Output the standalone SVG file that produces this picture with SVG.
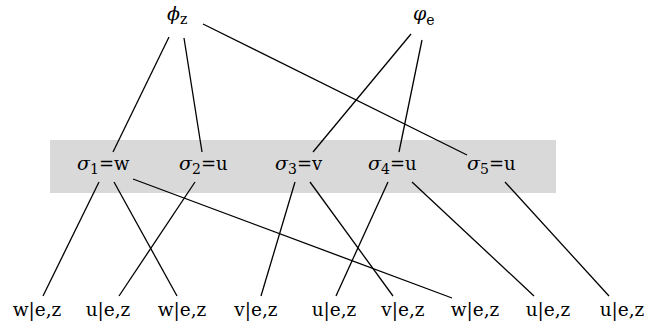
<svg xmlns="http://www.w3.org/2000/svg" width="657" height="326" viewBox="0 0 657 326">
<style>
text{font-family:"DejaVu Serif","Liberation Serif",serif;font-size:18px;fill:#000}
.g{font-style:italic;font-size:19px}
.s{font-size:14px}
.leaf{text-anchor:middle;font-size:18.5px}
#edges line{stroke:#000;stroke-width:1.3}
</style>
<rect id="band" x="50" y="140" width="506" height="53" fill="#d9d9d9"/>
<g id="edges">
<line x1="169" y1="37" x2="113" y2="152"/>
<line x1="184" y1="38" x2="202" y2="152"/>
<line x1="203" y1="24" x2="467" y2="155"/>
<line x1="411" y1="34" x2="313" y2="152"/>
<line x1="422" y1="40" x2="399" y2="152"/>
<line x1="99" y1="182" x2="43" y2="296"/>
<line x1="114" y1="182" x2="177" y2="296"/>
<line x1="133" y1="179" x2="452" y2="298"/>
<line x1="195" y1="182" x2="119" y2="296"/>
<line x1="295" y1="182" x2="261" y2="296"/>
<line x1="310" y1="182" x2="393" y2="296"/>
<line x1="388" y1="182" x2="336" y2="296"/>
<line x1="412" y1="182" x2="534" y2="296"/>
<line x1="505" y1="182" x2="609" y2="296"/>
</g>
<g id="phi_z"><text x="167" y="20"><tspan class="g">ϕ</tspan><tspan class="s" dy="4">z</tspan></text></g>
<g id="phi_e"><text x="413" y="20"><tspan class="g">φ</tspan><tspan class="s" dy="5">e</tspan></text></g>
<g id="s1"><text x="77" y="170"><tspan class="g">σ</tspan><tspan class="s" dy="4">1</tspan><tspan dy="-4">=w</tspan></text></g>
<g id="s2"><text x="179" y="170"><tspan class="g">σ</tspan><tspan class="s" dy="4">2</tspan><tspan dy="-4">=u</tspan></text></g>
<g id="s3"><text x="275" y="170"><tspan class="g">σ</tspan><tspan class="s" dy="4">3</tspan><tspan dy="-4">=v</tspan></text></g>
<g id="s4"><text x="368" y="170"><tspan class="g">σ</tspan><tspan class="s" dy="4">4</tspan><tspan dy="-4">=u</tspan></text></g>
<g id="s5"><text x="467" y="170"><tspan class="g">σ</tspan><tspan class="s" dy="4">5</tspan><tspan dy="-4">=u</tspan></text></g>
<g id="l1"><text class="leaf" x="37" y="316">w|e,z</text></g>
<g id="l2"><text class="leaf" x="108" y="316">u|e,z</text></g>
<g id="l3"><text class="leaf" x="182" y="316">w|e,z</text></g>
<g id="l4"><text class="leaf" x="256" y="316">v|e,z</text></g>
<g id="l5"><text class="leaf" x="334" y="316">u|e,z</text></g>
<g id="l6"><text class="leaf" x="403" y="316">v|e,z</text></g>
<g id="l7"><text class="leaf" x="475" y="316">w|e,z</text></g>
<g id="l8"><text class="leaf" x="548" y="316">u|e,z</text></g>
<g id="l9"><text class="leaf" x="622" y="316">u|e,z</text></g>
</svg>
